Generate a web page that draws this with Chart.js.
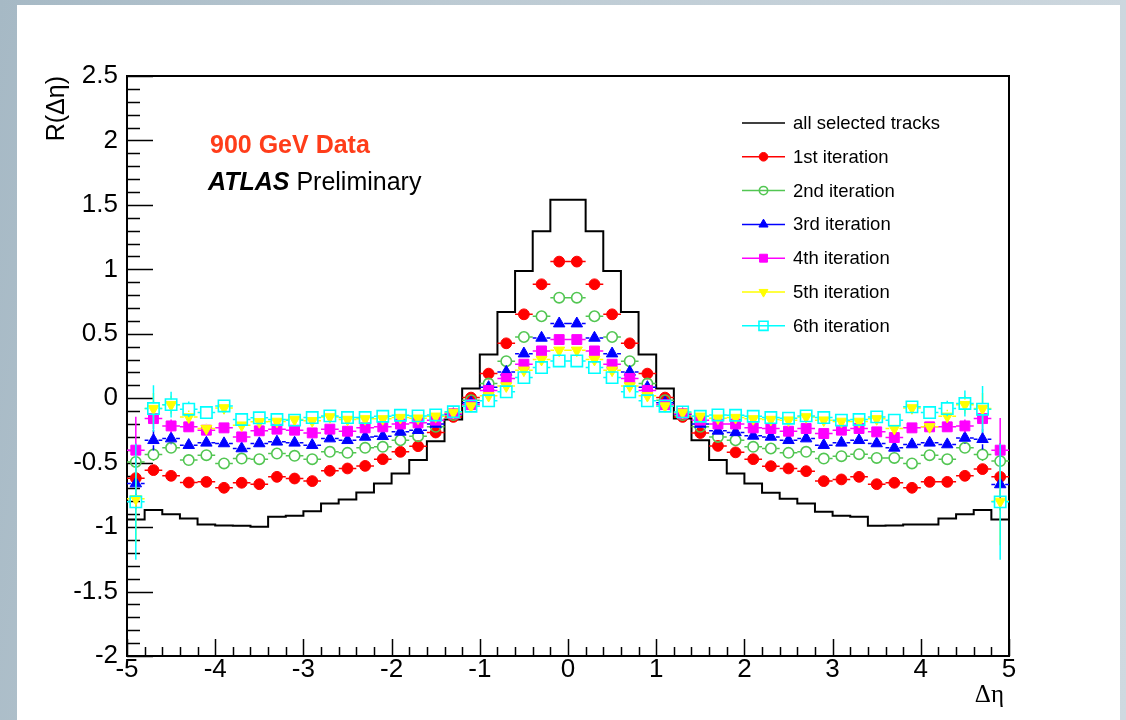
<!DOCTYPE html>
<html>
<head>
<meta charset="utf-8">
<title>R(Δη) - ATLAS Preliminary, 900 GeV</title>
<script src="https://cdn.jsdelivr.net/npm/chart.js@4.4.0/dist/chart.umd.min.js"></script>
<style>
  html, body { margin: 0; padding: 0; }
  body {
    width: 1126px; height: 720px; overflow: hidden; position: relative;
    background: linear-gradient(100deg, #a6b9c5 0%, #bccad3 35%, #cfd9e0 100%);
  }
  #panel { position: absolute; left: 17px; top: 5px; width: 1103px; height: 715px; background: #fff; }
  #rEta { position: absolute; left: 0; top: 0; }
</style>
</head>
<body>
<div id="panel"></div>
<canvas id="rEta" width="1126" height="720"></canvas>
<script>
// bins of 0.2 in delta eta
const binCenters = [-4.9, -4.7, -4.5, -4.3, -4.1, -3.9, -3.7, -3.5, -3.3, -3.1, -2.9, -2.7, -2.5, -2.3, -2.1,
  -1.9, -1.7, -1.5, -1.3, -1.1, -0.9, -0.7, -0.5, -0.3, -0.1, 0.1, 0.3, 0.5, 0.7, 0.9, 1.1, 1.3, 1.5, 1.7, 1.9,
  2.1, 2.3, 2.5, 2.7, 2.9, 3.1, 3.3, 3.5, 3.7, 3.9, 4.1, 4.3, 4.5, 4.7, 4.9];
const binHalfWidth = 0.1;

const seriesNames = ['all selected tracks', '1st iteration', '2nd iteration', '3rd iteration',
  '4th iteration', '5th iteration', '6th iteration'];

// all selected tracks (histogram)
const allTracks = [-0.94, -0.868, -0.90, -0.933, -0.98, -0.987, -0.99, -0.997, -0.92, -0.912, -0.876, -0.817, -0.786,
  -0.731, -0.662, -0.584, -0.48, -0.333, -0.165, 0.075, 0.339, 0.669, 0.987, 1.295, 1.54,
  1.54, 1.295, 0.987, 0.669, 0.339, 0.075, -0.158, -0.326, -0.48, -0.584, -0.662, -0.733, -0.78,
  -0.817, -0.88, -0.912, -0.92, -0.99, -0.987, -0.98, -0.98, -0.933, -0.90, -0.868, -0.94];

const iter1 = [-0.62, -0.558, -0.602, -0.654, -0.649, -0.695, -0.656, -0.667, -0.61, -0.623, -0.643, -0.563, -0.545,
  -0.525, -0.473, -0.416, -0.372, -0.266, -0.145, 0.005, 0.191, 0.426, 0.651, 0.884, 1.06,
  1.06, 0.884, 0.651, 0.426, 0.191, 0.005, -0.145, -0.27, -0.37, -0.42, -0.473, -0.527, -0.545,
  -0.566, -0.643, -0.63, -0.61, -0.667, -0.656, -0.695, -0.649, -0.649, -0.602, -0.55, -0.61];
const iter2 = [-0.494, -0.437, -0.385, -0.48, -0.442, -0.506, -0.468, -0.473, -0.429, -0.447, -0.473, -0.416, -0.424,
  -0.385, -0.377, -0.326, -0.295, -0.222, -0.13, -0.015, 0.114, 0.287, 0.475, 0.636, 0.78,
  0.78, 0.636, 0.475, 0.287, 0.114, -0.015, -0.13, -0.222, -0.3, -0.326, -0.377, -0.39, -0.424,
  -0.416, -0.468, -0.45, -0.434, -0.463, -0.463, -0.506, -0.442, -0.473, -0.385, -0.437, -0.488];
const iter3 = [-0.662, -0.326, -0.313, -0.364, -0.346, -0.351, -0.39, -0.351, -0.338, -0.346, -0.364, -0.313, -0.326,
  -0.3, -0.295, -0.261, -0.248, -0.2, -0.125, -0.035, 0.085, 0.204, 0.346, 0.468, 0.579,
  0.579, 0.468, 0.346, 0.204, 0.085, -0.035, -0.125, -0.2, -0.253, -0.265, -0.292, -0.3, -0.326,
  -0.313, -0.364, -0.346, -0.326, -0.351, -0.385, -0.359, -0.346, -0.359, -0.308, -0.318, -0.669];
const iter4 = [-0.403, -0.158, -0.215, -0.222, -0.248, -0.23, -0.3, -0.253, -0.24, -0.248, -0.269, -0.24, -0.256,
  -0.23, -0.222, -0.2, -0.191, -0.17, -0.12, -0.05, 0.06, 0.153, 0.264, 0.367, 0.455,
  0.455, 0.367, 0.264, 0.153, 0.06, -0.05, -0.12, -0.17, -0.2, -0.2, -0.23, -0.235, -0.256,
  -0.235, -0.274, -0.248, -0.235, -0.261, -0.305, -0.23, -0.222, -0.222, -0.215, -0.158, -0.403];
const iter5 = [-0.78, -0.08, -0.05, -0.145, -0.235, -0.075, -0.209, -0.183, -0.18, -0.165, -0.175, -0.145, -0.165,
  -0.16, -0.16, -0.15, -0.155, -0.14, -0.11, -0.06, 0.02, 0.095, 0.217, 0.30, 0.372,
  0.372, 0.30, 0.217, 0.095, 0.02, -0.06, -0.11, -0.14, -0.155, -0.15, -0.16, -0.165, -0.17,
  -0.145, -0.17, -0.18, -0.18, -0.16, -0.235, -0.075, -0.222, -0.14, -0.05, -0.08, -0.80];
const iter6 = [-0.804, -0.08, -0.05, -0.085, -0.111, -0.06, -0.165, -0.152, -0.165, -0.17, -0.15, -0.137, -0.15,
  -0.15, -0.14, -0.132, -0.137, -0.13, -0.105, -0.062, -0.02, 0.05, 0.16, 0.238, 0.289,
  0.289, 0.238, 0.16, 0.05, -0.02, -0.062, -0.106, -0.14, -0.13, -0.132, -0.14, -0.15, -0.155,
  -0.137, -0.15, -0.17, -0.165, -0.145, -0.17, -0.067, -0.111, -0.08, -0.041, -0.085, -0.804];

// vertical errors
const err1 = [0.09, 0.04, 0.03, 0.025, 0.02, 0.02, 0.02, 0.015, 0.015, 0.015, 0.015, 0.01, 0.01, 0.01, 0.01,
  0.01, 0.01, 0.01, 0.01, 0.01, 0.01, 0.01, 0.01, 0.01, 0.01, 0.01, 0.01, 0.01, 0.01, 0.01, 0.01, 0.01, 0.01,
  0.01, 0.01, 0.01, 0.01, 0.01, 0.01, 0.015, 0.015, 0.015, 0.015, 0.02, 0.02, 0.02, 0.025, 0.03, 0.04, 0.09];
const err2 = [0.14, 0.05, 0.035, 0.03, 0.025, 0.02, 0.02, 0.02, 0.015, 0.015, 0.015, 0.015, 0.01, 0.01, 0.01,
  0.01, 0.01, 0.01, 0.01, 0.01, 0.01, 0.01, 0.01, 0.01, 0.01, 0.01, 0.01, 0.01, 0.01, 0.01, 0.01, 0.01, 0.01,
  0.01, 0.01, 0.01, 0.01, 0.01, 0.015, 0.015, 0.015, 0.015, 0.02, 0.02, 0.02, 0.025, 0.03, 0.035, 0.05, 0.14];
const err3 = [0.2, 0.08, 0.045, 0.035, 0.03, 0.025, 0.02, 0.02, 0.02, 0.015, 0.015, 0.015, 0.015, 0.01, 0.01,
  0.01, 0.01, 0.01, 0.01, 0.01, 0.01, 0.01, 0.01, 0.01, 0.01, 0.01, 0.01, 0.01, 0.01, 0.01, 0.01, 0.01, 0.01,
  0.01, 0.01, 0.01, 0.01, 0.015, 0.015, 0.015, 0.015, 0.02, 0.02, 0.02, 0.025, 0.03, 0.035, 0.045, 0.08, 0.2];
const err4 = [0.26, 0.08, 0.05, 0.04, 0.035, 0.03, 0.025, 0.02, 0.02, 0.02, 0.015, 0.015, 0.015, 0.015, 0.01,
  0.01, 0.01, 0.01, 0.01, 0.01, 0.01, 0.01, 0.01, 0.01, 0.01, 0.01, 0.01, 0.01, 0.01, 0.01, 0.01, 0.01, 0.01,
  0.01, 0.01, 0.01, 0.015, 0.015, 0.015, 0.015, 0.02, 0.02, 0.02, 0.025, 0.03, 0.035, 0.04, 0.05, 0.08, 0.25];
const err5 = [0.34, 0.12, 0.07, 0.05, 0.04, 0.035, 0.03, 0.025, 0.025, 0.02, 0.02, 0.02, 0.015, 0.015, 0.015,
  0.01, 0.01, 0.01, 0.01, 0.01, 0.01, 0.01, 0.01, 0.01, 0.01, 0.01, 0.01, 0.01, 0.01, 0.01, 0.01, 0.01, 0.01,
  0.01, 0.01, 0.015, 0.015, 0.015, 0.02, 0.02, 0.02, 0.025, 0.025, 0.03, 0.035, 0.04, 0.05, 0.07, 0.12, 0.34];
const err6 = [0.45, 0.18, 0.10, 0.06, 0.05, 0.04, 0.035, 0.03, 0.03, 0.025, 0.025, 0.02, 0.02, 0.02, 0.02,
  0.015, 0.015, 0.015, 0.01, 0.01, 0.01, 0.01, 0.01, 0.01, 0.01, 0.01, 0.01, 0.01, 0.01, 0.01, 0.01, 0.01,
  0.015, 0.015, 0.015, 0.02, 0.02, 0.02, 0.02, 0.025, 0.025, 0.03, 0.03, 0.035, 0.04, 0.05, 0.06, 0.10, 0.18, 0.45];

const xTickValues = [-5, -4, -3, -2, -1, 0, 1, 2, 3, 4, 5];
const xTickLabels = ['-5', '-4', '-3', '-2', '-1', '0', '1', '2', '3', '4', '5'];
const yTickValues = [-2, -1.5, -1, -0.5, 0, 0.5, 1, 1.5, 2, 2.5];
const yTickLabels = ['-2', '-1.5', '-1', '-0.5', '0', '0.5', '1', '1.5', '2', '2.5'];
const xMinorStep = 0.2;
const yMinorStep = 0.1;

const sansFont = "'Liberation Sans', Arial, Helvetica, sans-serif";
const serifFont = "'Liberation Serif', 'Times New Roman', serif";

function points(vals) {
  return binCenters.map((x, i) => ({ x: x, y: vals[i] }));
}

// histogram outline: one point at each left bin edge, plus the last right edge
const histPoints = binCenters.map((x, i) => ({ x: x - binHalfWidth, y: allTracks[i] }));
histPoints.push({ x: binCenters[binCenters.length - 1] + binHalfWidth, y: allTracks[allTracks.length - 1] });

function markerSet(label, vals, errs, color, style, radius, filled, gap, order, rotation) {
  return {
    type: 'scatter',
    label: label,
    data: points(vals),
    errY: errs,
    gap: gap,
    borderColor: color,
    backgroundColor: color,
    pointStyle: style,
    pointRadius: radius,
    pointRotation: rotation || 0,
    pointBackgroundColor: filled ? color : 'rgba(0,0,0,0)',
    pointBorderColor: color,
    pointBorderWidth: filled ? 1 : 1.6,
    showLine: false,
    order: order
  };
}

// ROOT-like frame, inward ticks, error bars, legend and texts
const rootStyle = {
  id: 'rootStyle',
  beforeDatasetsDraw(chart) {
    const { ctx, chartArea: a } = chart;
    const xs = chart.scales.x, ys = chart.scales.y;
    ctx.save();
    ctx.strokeStyle = '#000';
    ctx.lineWidth = 1.5;
    ctx.beginPath();
    for (let v = xs.min; v <= xs.max + 1e-6; v += xMinorStep) {
      const px = Math.round(xs.getPixelForValue(v)) + 0.5;
      const major = xTickValues.some(t => Math.abs(t - v) < 1e-6);
      ctx.moveTo(px, a.bottom);
      ctx.lineTo(px, a.bottom - (major ? 17 : 9));
    }
    for (let v = ys.min; v <= ys.max + 1e-6; v += yMinorStep) {
      const py = Math.round(ys.getPixelForValue(v)) + 0.5;
      const major = yTickValues.some(t => Math.abs(t - v) < 1e-6);
      ctx.moveTo(a.left, py);
      ctx.lineTo(a.left + (major ? 26 : 13), py);
    }
    ctx.stroke();
    ctx.lineWidth = 2;
    ctx.strokeRect(a.left, a.top, a.right - a.left, a.bottom - a.top);
    ctx.restore();
  },
  beforeDatasetDraw(chart, args) {
    const ds = chart.data.datasets[args.index];
    if (!ds.errY) return;
    const ctx = chart.ctx, xs = chart.scales.x, ys = chart.scales.y;
    ctx.save();
    ctx.strokeStyle = ds.borderColor;
    ctx.lineWidth = 1.5;
    ctx.beginPath();
    ds.data.forEach((p, i) => {
      const px = xs.getPixelForValue(p.x);
      const py = ys.getPixelForValue(p.y);
      const hw = xs.getPixelForValue(p.x + binHalfWidth) - px;
      const ev = ys.getPixelForValue(p.y - ds.errY[i]) - py;
      const g = ds.gap;
      ctx.moveTo(px - hw, py); ctx.lineTo(px - g, py);
      ctx.moveTo(px + g, py); ctx.lineTo(px + hw, py);
      if (ev > g) {
        ctx.moveTo(px, py - ev); ctx.lineTo(px, py - g);
        ctx.moveTo(px, py + g); ctx.lineTo(px, py + ev);
      }
    });
    ctx.stroke();
    ctx.restore();
  },
  afterDraw(chart) {
    const ctx = chart.ctx;
    ctx.save();

    // axis titles
    ctx.fillStyle = '#000';
    ctx.font = '25px ' + sansFont;
    ctx.translate(64, 76);
    ctx.rotate(-Math.PI / 2);
    ctx.textAlign = 'right';
    ctx.textBaseline = 'alphabetic';
    ctx.fillText('R(Δη)', 0, 0);
    ctx.setTransform(1, 0, 0, 1, 0, 0);
    ctx.font = '25px ' + serifFont;
    ctx.fillText('Δη', 1004, 702);

    // labels
    ctx.textAlign = 'left';
    ctx.fillStyle = '#ff3d1a';
    ctx.font = 'bold 25px ' + sansFont;
    ctx.fillText('900 GeV Data', 210, 153);
    ctx.fillStyle = '#000';
    ctx.font = 'italic bold 25px ' + sansFont;
    ctx.fillText('ATLAS', 208, 190);
    const w = ctx.measureText('ATLAS ').width;
    ctx.font = '25px ' + sansFont;
    ctx.fillText('Preliminary', 208 + w, 190);

    // legend
    ctx.font = '18.5px ' + sansFont;
    ctx.textBaseline = 'middle';
    chart.data.datasets.forEach((ds, i) => {
      const y = 123 + i * 33.8;
      ctx.strokeStyle = ds.borderColor;
      ctx.lineWidth = 1.5;
      ctx.beginPath();
      ctx.moveTo(742, y);
      ctx.lineTo(785, y);
      ctx.stroke();
      if (ds.errY && Chart.helpers && Chart.helpers.drawPoint) {
        ctx.fillStyle = ds.pointBackgroundColor;
        ctx.strokeStyle = ds.pointBorderColor;
        ctx.lineWidth = ds.pointBorderWidth;
        Chart.helpers.drawPoint(ctx, {
          pointStyle: ds.pointStyle,
          rotation: ds.pointRotation,
          radius: ds.pointRadius * 0.8,
          borderWidth: ds.pointBorderWidth
        }, 763.5, y);
      }
      ctx.fillStyle = '#000';
      ctx.fillText(ds.label, 793, y + 1);
    });
    ctx.restore();
  }
};

const ctx = document.getElementById('rEta').getContext('2d');
const rEtaChart = new Chart(ctx, {
  type: 'scatter',
  data: {
    datasets: [
      {
        type: 'line',
        label: seriesNames[0],
        data: histPoints,
        borderColor: '#000',
        backgroundColor: '#000',
        borderWidth: 2,
        pointRadius: 0,
        stepped: true,
        fill: false,
        borderJoinStyle: 'miter',
        order: 7
      },
      markerSet(seriesNames[1], iter1, err1, '#ff0000', 'circle', 5.4, true, 5, 6),
      markerSet(seriesNames[2], iter2, err2, '#52c652', 'circle', 5.2, false, 5.5, 5),
      markerSet(seriesNames[3], iter3, err3, '#0000ff', 'triangle', 6.6, true, 5, 4),
      markerSet(seriesNames[4], iter4, err4, '#ff00ff', 'rect', 7, true, 5, 3),
      markerSet(seriesNames[5], iter5, err5, '#ffff00', 'triangle', 6.4, true, 5, 2, 180),
      markerSet(seriesNames[6], iter6, err6, '#00ffff', 'rect', 8, false, 6, 1)
    ]
  },
  options: {
    responsive: false,
    animation: false,
    devicePixelRatio: 1,
    events: [],
    // scale boxes are forced so the frame sits at (127,76)-(1009,656)
    layout: { padding: { left: 0, right: 117, top: 76, bottom: 0 } },
    plugins: { legend: { display: false }, tooltip: { enabled: false } },
    scales: {
      x: {
        type: 'linear',
        min: -5,
        max: 5,
        afterBuildTicks: s => { s.ticks = xTickValues.map(v => ({ value: v })); },
        afterFit: s => { s.height = 64; },
        grid: { display: false, drawTicks: false },
        border: { display: false },
        ticks: {
          autoSkip: false,
          maxRotation: 0,
          padding: -2,
          color: '#000',
          font: { family: sansFont, size: 26 },
          callback: v => xTickLabels[xTickValues.indexOf(v)]
        }
      },
      y: {
        type: 'linear',
        min: -2,
        max: 2.5,
        afterBuildTicks: s => { s.ticks = yTickValues.map(v => ({ value: v })); },
        afterFit: s => { s.width = 127; },
        grid: { display: false, drawTicks: false },
        border: { display: false },
        ticks: {
          autoSkip: false,
          padding: 9,
          color: '#000',
          font: { family: sansFont, size: 26 },
          callback: v => yTickLabels[yTickValues.indexOf(v)]
        }
      }
    }
  },
  plugins: [rootStyle]
});
</script>
</body>
</html>
